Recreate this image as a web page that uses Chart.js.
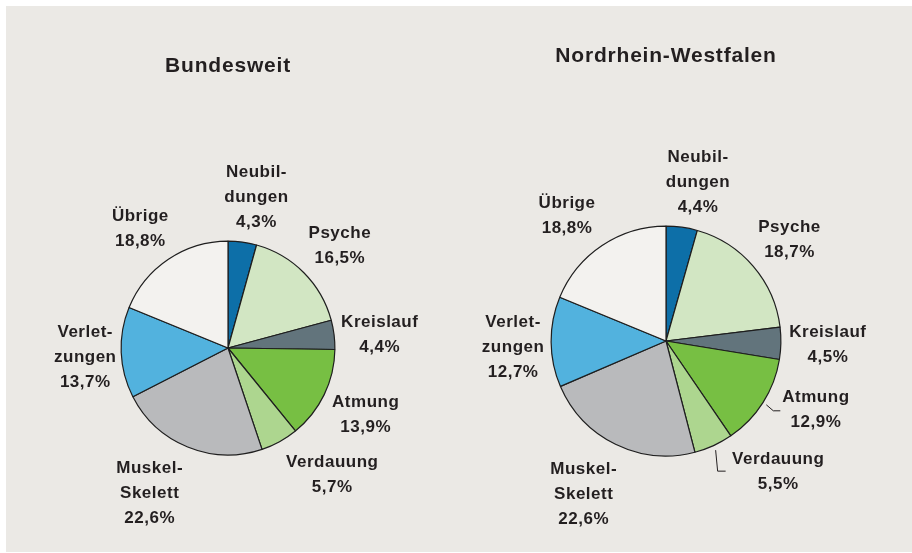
<!DOCTYPE html>
<html>
<head>
<meta charset="utf-8">
<script src="https://cdn.jsdelivr.net/npm/chart.js@4/dist/chart.umd.min.js"></script>
<style>
  html, body { margin: 0; padding: 0; background: #ffffff; }
  #wrap { position: relative; width: 912px; height: 553px; overflow: hidden; }
  #panel { position: absolute; left: 6px; top: 6px; width: 906px; height: 546px; background: #ebe9e5; }
  canvas { position: absolute; left: 0; top: 0; }
</style>
</head>
<body>
<div id="wrap">
  <div id="panel"></div>
  <canvas id="c1" width="912" height="553"></canvas>
  <canvas id="c2" width="912" height="553"></canvas>
</div>
<script>
// ---- Data ----
const categories = ["Neubildungen", "Psyche", "Kreislauf", "Atmung", "Verdauung", "Muskel-Skelett", "Verletzungen", "Übrige"];
const categoryLines = [["Neubil-", "dungen"], ["Psyche"], ["Kreislauf"], ["Atmung"], ["Verdauung"], ["Muskel-", "Skelett"], ["Verlet-", "zungen"], ["Übrige"]];
const chartTitles = ["Bundesweit", "Nordrhein-Westfalen"];
const valuesBund = [4.3, 16.5, 4.4, 13.9, 5.7, 22.6, 13.7, 18.8];
const valuesNRW = [4.4, 18.7, 4.5, 12.9, 5.5, 22.6, 12.7, 18.8];

// ---- Styling / layout ----
const sliceColors = ["#0d6fa8", "#d2e6c3", "#62747c", "#77bf43", "#add68f", "#b9babc", "#52b2de", "#f3f2ef"];
const W = 912, H = 553;
const pieGeom = [{ cx: 228, cy: 348, r: 107, titleY: 66 }, { cx: 666, cy: 341, r: 115, titleY: 56 }];
const labelShift1 = [[8, 0], [4, 5], [1, 6], [1, 1], [31, -6], [-21, 5], [9, 3], [-3, 7]];
const labelShift2 = [[10, 0], [2, 3], [2, 1], [15, -17], [46, -15], [-12, 10], [7, 5], [-10, 8]];
const leaders2 = [{ index: 3, gap: 4, steps: [[7, 6], [7, 0]] }, { index: 4, gap: 5, steps: [[2, 21], [8, 0]] }];
const textColor = "#231f20";
const labelFont = "bold 17px 'Liberation Sans', Arial, sans-serif";
const titleFont = "bold 21px 'Liberation Sans', Arial, sans-serif";
const lineH = 25;

function fmt(v) { return v.toFixed(1).replace('.', ',') + '%'; }

function makeLabelPlugin(title, titleY, shifts, leaders) {
  return {
    id: 'sliceLabels',
    afterDraw(chart) {
      const ctx = chart.ctx;
      const meta = chart.getDatasetMeta(0);
      const values = chart.data.datasets[0].data;
      ctx.save();
      ctx.fillStyle = textColor;
      ctx.textAlign = 'center';
      ctx.textBaseline = 'middle';
      // title
      ctx.font = titleFont;
      try { ctx.letterSpacing = '0.8px'; } catch (e) {}
      const ca = chart.chartArea;
      ctx.fillText(title, (ca.left + ca.right) / 2, titleY);
      // labels
      ctx.font = labelFont;
      try { ctx.letterSpacing = '0.5px'; } catch (e) {}
      meta.data.forEach((arc, i) => {
        const mid = (arc.startAngle + arc.endAngle) / 2;
        const d = arc.outerRadius + 45;
        const x = arc.x + d * Math.cos(mid) + shifts[i][0];
        const y = arc.y + d * Math.sin(mid) + shifts[i][1];
        const lines = categoryLines[i].concat([fmt(values[i])]);
        const y0 = y - (lines.length - 1) * lineH / 2;
        lines.forEach((t, k) => ctx.fillText(t, x, y0 + k * lineH));
      });
      // leader lines
      ctx.strokeStyle = textColor;
      ctx.lineWidth = 1;
      (leaders || []).forEach(L => {
        const arc = meta.data[L.index];
        const mid = (arc.startAngle + arc.endAngle) / 2;
        let px = arc.x + (arc.outerRadius + L.gap) * Math.cos(mid);
        let py = arc.y + (arc.outerRadius + L.gap) * Math.sin(mid);
        ctx.beginPath();
        ctx.moveTo(px, py);
        L.steps.forEach(s => { px += s[0]; py += s[1]; ctx.lineTo(px, py); });
        ctx.stroke();
      });
      ctx.restore();
    }
  };
}

function makePie(canvasId, values, geom, title, shifts, leaders) {
  const size = 2 * geom.r + 1;
  const left = geom.cx - size / 2, top = geom.cy - size / 2;
  return new Chart(document.getElementById(canvasId), {
    type: 'pie',
    data: {
      labels: categories,
      datasets: [{
        data: values,
        backgroundColor: sliceColors,
        borderColor: '#1e1e1e',
        borderWidth: 1.2,
        hoverOffset: 0
      }]
    },
    options: {
      responsive: false,
      animation: false,
      devicePixelRatio: 1,
      rotation: 0,
      layout: { padding: { left: left, top: top, right: W - left - size, bottom: H - top - size } },
      plugins: { legend: { display: false }, tooltip: { enabled: false }, title: { display: false } }
    },
    plugins: [makeLabelPlugin(title, geom.titleY, shifts, leaders)]
  });
}

makePie('c1', valuesBund, pieGeom[0], chartTitles[0], labelShift1, null);
makePie('c2', valuesNRW, pieGeom[1], chartTitles[1], labelShift2, leaders2);
</script>
</body>
</html>
